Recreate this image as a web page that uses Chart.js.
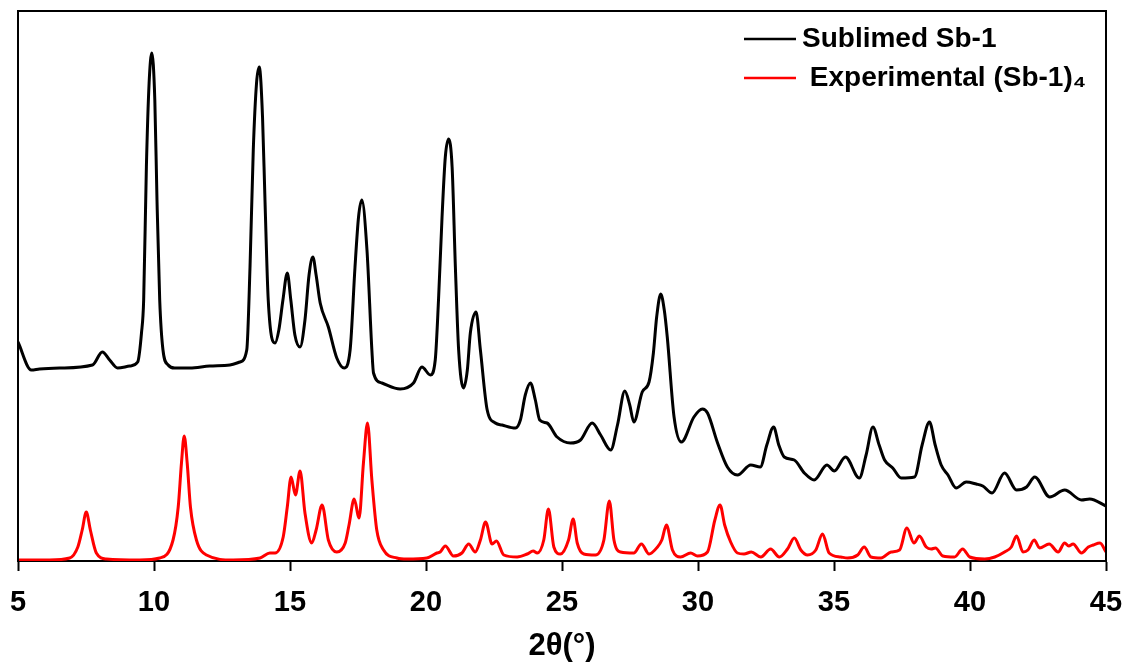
<!DOCTYPE html>
<html>
<head>
<meta charset="utf-8">
<script src="https://cdn.jsdelivr.net/npm/chart.js@4.4.1/dist/chart.umd.min.js"></script>
<style>
  body { margin: 0; background: #fff; }
  #wrap { width: 1125px; height: 665px; }
</style>
</head>
<body>
<div id="wrap"><canvas id="xrdChart"></canvas></div>
<script>
// 2theta positions and intensities (arb. units) for each pattern
const sublimedTheta = [5.00, 5.49, 5.79, 6.53, 7.74, 8.10, 8.37, 8.66, 9.11, 9.40, 9.54, 9.62, 9.72, 9.82, 9.92, 10.03, 10.11, 10.21, 10.33, 10.52, 10.76, 11.32, 12.05, 12.79, 13.16, 13.41, 13.53, 13.65, 13.77, 13.87, 13.99, 14.08, 14.20, 14.45, 14.59, 14.74, 14.90, 15.03, 15.18, 15.37, 15.55, 15.70, 15.84, 15.96, 16.11, 16.41, 16.72, 16.99, 17.21, 17.39, 17.52, 17.64, 17.83, 18.01, 18.07, 18.38, 19.05, 19.54, 19.85, 20.16, 20.34, 20.46, 20.59, 20.71, 20.83, 20.96, 21.08, 21.20, 21.38, 21.52, 21.63, 21.84, 22.00, 22.25, 22.55, 22.80, 23.29, 23.47, 23.65, 23.84, 24.02, 24.18, 24.45, 24.82, 25.31, 25.68, 26.11, 26.42, 26.79, 27.04, 27.31, 27.49, 27.64, 27.95, 28.20, 28.36, 28.48, 28.63, 28.76, 28.87, 29.12, 29.39, 29.85, 30.16, 30.35, 30.72, 31.08, 31.45, 31.94, 32.29, 32.53, 32.78, 32.97, 33.17, 33.54, 33.91, 34.27, 34.74, 35.01, 35.42, 35.93, 36.18, 36.43, 36.66, 36.86, 37.16, 37.47, 37.96, 38.24, 38.51, 38.72, 38.94, 39.19, 39.49, 39.86, 40.23, 40.47, 40.81, 41.27, 41.71, 42.08, 42.38, 42.93, 43.48, 44.10, 44.40, 45.00];
const sublimedCounts = [219, 191, 192, 193, 196, 209, 201, 193, 195, 199, 228, 261, 394, 478, 508, 461, 361, 261, 211, 196, 193, 193, 195, 196, 199, 211, 294, 411, 478, 494, 444, 361, 261, 218, 231, 261, 288, 261, 226, 214, 241, 286, 304, 286, 258, 234, 203, 193, 211, 294, 344, 361, 311, 211, 188, 178, 172, 178, 194, 186, 201, 261, 344, 404, 422, 394, 294, 211, 173, 191, 228, 249, 211, 151, 138, 136, 133, 141, 166, 178, 161, 141, 138, 124, 118, 121, 138, 126, 111, 136, 170, 156, 139, 169, 179, 208, 244, 267, 251, 224, 144, 119, 144, 152, 148, 118, 94, 86, 96, 94, 116, 134, 116, 104, 101, 88, 81, 96, 90, 104, 83, 106, 134, 116, 101, 93, 83, 84, 116, 139, 116, 96, 86, 73, 79, 77, 75, 68, 88, 71, 74, 84, 64, 71, 61, 62, 55];

const exptTheta = [5.00, 6.16, 6.90, 7.20, 7.36, 7.51, 7.66, 7.88, 8.25, 9.48, 10.21, 10.70, 10.89, 11.01, 11.11, 11.22, 11.34, 11.56, 11.93, 12.91, 13.90, 14.26, 14.45, 14.75, 14.90, 15.04, 15.20, 15.37, 15.55, 15.80, 15.96, 16.18, 16.41, 16.72, 17.03, 17.17, 17.36, 17.54, 17.70, 17.85, 18.01, 18.19, 18.44, 18.93, 19.30, 20.03, 20.40, 20.52, 20.71, 21.01, 21.32, 21.57, 21.81, 22.00, 22.19, 22.43, 22.59, 22.86, 23.35, 23.72, 23.94, 24.09, 24.33, 24.50, 24.70, 24.94, 25.24, 25.41, 25.56, 25.80, 26.23, 26.54, 26.74, 26.91, 27.15, 27.64, 27.92, 28.20, 28.51, 28.67, 28.84, 29.06, 29.36, 29.73, 29.98, 30.35, 30.62, 30.81, 30.98, 31.20, 31.45, 31.69, 31.96, 32.31, 32.67, 32.99, 33.29, 33.54, 33.78, 34.03, 34.33, 34.58, 34.82, 35.25, 35.50, 35.87, 36.11, 36.36, 36.73, 37.10, 37.41, 37.68, 37.94, 38.14, 38.39, 38.57, 38.73, 39.00, 39.43, 39.73, 39.99, 40.54, 40.91, 41.27, 41.52, 41.71, 41.95, 42.13, 42.36, 42.56, 42.91, 43.24, 43.48, 43.63, 43.79, 44.10, 44.35, 44.53, 44.78, 45.00];
const exptCounts = [1, 1, 3, 14, 31, 49, 31, 8, 2, 1, 3, 21, 54, 98, 125, 98, 54, 21, 6, 1, 3, 8, 8, 24, 54, 84, 66, 90, 48, 18, 31, 56, 21, 9, 18, 36, 62, 43, 98, 138, 81, 31, 11, 3, 2, 3, 8, 9, 15, 5, 8, 17, 9, 21, 39, 17, 20, 6, 4, 7, 10, 8, 21, 52, 14, 7, 21, 42, 18, 7, 6, 21, 60, 21, 9, 8, 17, 7, 14, 21, 36, 11, 4, 8, 5, 9, 41, 56, 36, 19, 8, 7, 9, 4, 12, 4, 12, 23, 11, 6, 11, 27, 8, 4, 3, 6, 14, 4, 3, 9, 11, 33, 18, 25, 14, 12, 13, 5, 4, 12, 4, 2, 4, 9, 14, 25, 9, 11, 21, 13, 17, 9, 18, 15, 17, 8, 14, 16, 18, 9];

const xTicks = [5, 10, 15, 20, 25, 30, 35, 40, 45];
const seriesLabels = ['Sublimed Sb-1', ' Experimental (Sb-1)\u2084'];
const seriesColors = ['#000000', '#ff0000'];

function toPoints(xs, ys) {
    return xs.map((x, i) => ({ x: x, y: ys[i] }));
}

// box around the plot area (bottom edge is the x axis itself)
const frame = {
    id: 'frame',
    afterDatasetsDraw(chart) {
        const { ctx, chartArea: a } = chart;
        ctx.save();
        ctx.strokeStyle = '#000';
        ctx.lineWidth = 2;
        ctx.beginPath();
        ctx.moveTo(a.left, a.bottom);
        ctx.lineTo(a.left, a.top);
        ctx.lineTo(a.right, a.top);
        ctx.lineTo(a.right, a.bottom);
        ctx.stroke();
        ctx.restore();
    }
};

// legend in the top right corner, line sample + label
const cornerLegend = {
    id: 'cornerLegend',
    afterDraw(chart) {
        const { ctx, chartArea: a } = chart;
        const x0 = a.right - 362;
        ctx.save();
        ctx.font = 'bold 28px Arial, "Liberation Sans", sans-serif';
        ctx.textBaseline = 'alphabetic';
        chart.data.datasets.forEach((ds, i) => {
            const y = a.top + 28 + i * 39;
            ctx.strokeStyle = ds.borderColor;
            ctx.lineWidth = 2.5;
            ctx.beginPath();
            ctx.moveTo(x0, y);
            ctx.lineTo(x0 + 52, y);
            ctx.stroke();
            ctx.fillStyle = '#000';
            ctx.fillText(ds.label, x0 + 58, y + 8);
        });
        ctx.restore();
    }
};

const ctx = document.getElementById('xrdChart').getContext('2d');
Chart.defaults.font.family = 'Arial, "Liberation Sans", sans-serif';
Chart.defaults.color = '#000';

const xrdChart = new Chart(ctx, {
    type: 'line',
    data: {
        datasets: [{
            label: seriesLabels[0],
            data: toPoints(sublimedTheta, sublimedCounts),
            borderColor: seriesColors[0],
            borderWidth: 3,
            pointRadius: 0,
            cubicInterpolationMode: 'monotone'
        }, {
            label: seriesLabels[1],
            data: toPoints(exptTheta, exptCounts),
            borderColor: seriesColors[1],
            borderWidth: 3,
            pointRadius: 0,
            cubicInterpolationMode: 'monotone'
        }]
    },
    options: {
        responsive: true,
        maintainAspectRatio: false,
        animation: false,
        layout: {
            padding: { left: 18, right: 19, top: 11, bottom: 0 }
        },
        plugins: {
            legend: { display: false },
            tooltip: { enabled: false }
        },
        scales: {
            x: {
                type: 'linear',
                min: 5,
                max: 45,
                afterBuildTicks: function(scale) {
                    scale.ticks = xTicks.map(v => ({ value: v }));
                },
                afterFit: function(scale) {
                    // fixed axis band; end labels may hang into the page margin
                    scale.height = 104;
                    scale.paddingLeft = 0;
                    scale.paddingRight = 0;
                },
                border: { display: true, color: '#000', width: 2 },
                grid: {
                    drawOnChartArea: false,
                    drawTicks: true,
                    tickLength: 10,
                    tickColor: '#000',
                    tickWidth: 2
                },
                ticks: {
                    color: '#000',
                    padding: 15,
                    maxRotation: 0,
                    autoSkip: false,
                    font: { size: 29, weight: 'bold' }
                },
                title: {
                    display: true,
                    text: '2θ(°)',
                    color: '#000',
                    font: { size: 31, weight: 'bold' },
                    padding: { top: 0, bottom: 0 }
                }
            },
            y: {
                display: false,
                min: 0,
                max: 550
            }
        }
    },
    plugins: [frame, cornerLegend]
});
</script>
</body>
</html>
